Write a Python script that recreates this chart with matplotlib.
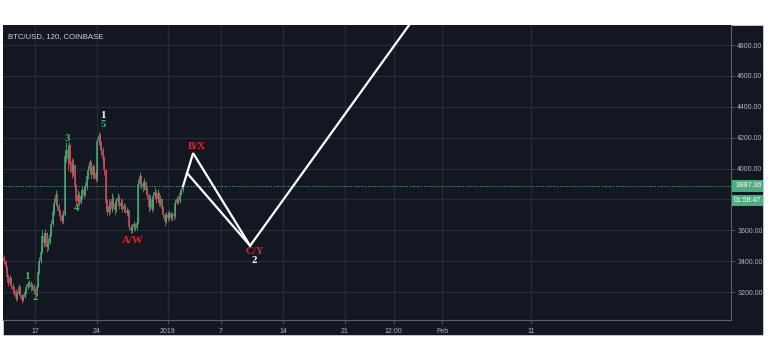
import numpy as np
import matplotlib.pyplot as plt
from matplotlib.patches import Rectangle

# 4h candles, x = days from 17 Dec 2018
closes = [3400, 3360, 3300, 3260, 3290, 3240, 3220, 3210, 3160, 3190,
          3230, 3180, 3150, 3170, 3200, 3230, 3250, 3260, 3230, 3240,
          3210, 3200, 3240, 3330, 3400, 3460, 3560, 3520, 3580, 3490,
          3520, 3570, 3640, 3720, 3780, 3830, 3760, 3720, 3690, 3660,
          3700, 4080, 4120, 4060, 4150, 4040, 3980, 4020, 3880, 3790,
          3830, 3780, 3820, 3860, 3830, 3880, 3950, 3990, 4040, 3960,
          4010, 3970, 3930, 4180, 4210, 4150, 4120, 4060, 3990, 3780,
          3720, 3760, 3740, 3800, 3770, 3730, 3790, 3810, 3760, 3780,
          3740, 3760, 3730, 3710, 3720, 3620, 3600, 3620, 3640, 3615,
          3650, 3900, 3950, 3900, 3880, 3910, 3860, 3830, 3750, 3800,
          3740, 3820, 3850, 3800, 3840, 3780, 3800, 3740, 3700, 3660,
          3700, 3680, 3710, 3680, 3700, 3690, 3780, 3800, 3790, 3840,
          3860, 3887]
highs = [3440, 3410, 3370, 3320, 3310, 3300, 3260, 3240, 3220, 3210,
         3250, 3240, 3190, 3190, 3220, 3250, 3270, 3280, 3270, 3260,
         3250, 3225, 3255, 3350, 3430, 3500, 3600, 3580, 3610, 3590,
         3550, 3600, 3670, 3760, 3810, 3860, 3840, 3780, 3740, 3710,
         3730, 4110, 4170, 4140, 4170, 4160, 4070, 4060, 4030, 3900,
         3860, 3850, 3840, 3890, 3880, 3910, 3980, 4020, 4060, 4050,
         4030, 4020, 3990, 4200, 4240, 4230, 4180, 4140, 4080, 4000,
         3800, 3800, 3790, 3840, 3820, 3790, 3810, 3840, 3830, 3810,
         3800, 3780, 3770, 3750, 3740, 3730, 3640, 3640, 3660, 3650,
         3680, 3930, 3980, 3960, 3920, 3940, 3920, 3880, 3840, 3830,
         3810, 3850, 3880, 3860, 3870, 3850, 3830, 3810, 3760, 3710,
         3720, 3720, 3730, 3720, 3720, 3715, 3800, 3820, 3820, 3860,
         3880, 3900]
lows = [3380, 3340, 3280, 3240, 3250, 3220, 3190, 3180, 3140, 3150,
        3180, 3160, 3130, 3140, 3160, 3190, 3220, 3230, 3210, 3215,
        3195, 3180, 3190, 3230, 3320, 3390, 3450, 3490, 3500, 3460,
        3470, 3510, 3560, 3630, 3700, 3760, 3730, 3690, 3660, 3640,
        3650, 3690, 4040, 3990, 4030, 3970, 3940, 3950, 3850, 3760,
        3770, 3760, 3770, 3800, 3810, 3820, 3860, 3930, 3970, 3930,
        3940, 3930, 3910, 3920, 4150, 4120, 4090, 4030, 3960, 3740,
        3700, 3700, 3710, 3720, 3740, 3700, 3720, 3770, 3740, 3740,
        3720, 3720, 3710, 3690, 3690, 3600, 3580, 3585, 3600, 3595,
        3600, 3640, 3880, 3870, 3850, 3860, 3830, 3800, 3720, 3730,
        3720, 3730, 3800, 3780, 3790, 3760, 3760, 3720, 3680, 3630,
        3650, 3660, 3670, 3660, 3670, 3670, 3680, 3770, 3770, 3780,
        3830, 3850]
first_open = 3420
start_day = -3.5
step = 1 / 6

# projection drawn on the chart
wave_x = [16.72, 17.85, 24.29, 43.0]
wave_y = [3887, 4100, 3500, 4990]
branch_x = [17.18, 24.29]
branch_y = [3970, 3500]

green_labels = [("1", -0.9, 3300), ("2", 0.0, 3164), ("3", 3.62, 4194),
                ("4", 4.75, 3741), ("5", 7.68, 4285)]
red_labels = [("A/W", 11.07, 3534), ("B/X", 18.3, 4143), ("C/Y", 24.86, 3462)]
white_labels = [("1", 7.68, 4343), ("2", 24.75, 3404)]

price_ticks = [3200, 3400, 3600, 3800, 4000, 4200, 4400, 4600, 4800]
date_pos = [0, 7, 15, 21, 28, 35, 40.5, 46, 56]
date_labels = ["17", "24", "2019", "7", "14", "21", "12:00", "Feb", "11"]
last_price = 3887.36

bg = "#131722"
grid_c = "#262a35"
txt_c = "#b2b5be"
up_c = "#4aa875"
dn_c = "#c9505c"
lab_c = "#3bbf6e"
sans = "Liberation Sans"

W, H = 768, 357
fig = plt.figure(figsize=(W / 100, H / 100), dpi=100, facecolor="white")
fig.patches.append(Rectangle((3 / W, 1 - 335 / H), 760 / W, 310 / H,
                             transform=fig.transFigure, facecolor=bg,
                             edgecolor="#cfd2d8", lw=0.6, zorder=-5))
ax = fig.add_axes([3 / W, 1 - 320 / H, 728 / W, 295 / H], facecolor=bg)
ax.set_zorder(2)

ax.set_xlim(-3.62, 78.6)
ax.set_ylim(3019, 4930)

for p in price_ticks:
    ax.axhline(p, color=grid_c, lw=0.9, zorder=1)
for d in date_pos:
    ax.axvline(d, color=grid_c, lw=0.9, zorder=1)

opens = [first_open] + closes[:-1]
xs = start_day + np.arange(len(closes)) * step
for x, o, c, h, l in zip(xs, opens, closes, highs, lows):
    col = up_c if c >= o else dn_c
    ax.vlines(x, l, h, color=col, lw=0.6, zorder=3)
    ax.vlines(x, min(o, c), max(o, c), color=col, lw=1.1, zorder=3)

ax.axhline(last_price, color="#4caf7f", lw=0.7, ls=(0, (1, 1.5)), zorder=2)

ax.plot(wave_x, wave_y, color="white", lw=1.6, zorder=5,
        solid_joinstyle="miter")
ax.plot(branch_x, branch_y, color="white", lw=1.6, zorder=5)

serif = dict(family="Liberation Serif", weight="bold", fontsize=7.8,
             ha="center", va="center", zorder=6)
for t, x, y in green_labels:
    ax.text(x, y, t, color=lab_c, **serif)
for t, x, y in red_labels:
    ax.text(x, y, t, color="#e8202a", **serif)
for t, x, y in white_labels:
    ax.text(x, y, t, color="white", **serif)

ax.text(0.007, 0.96, "BTC/USD, 120, COINBASE", transform=ax.transAxes,
        color="#d1d4dc", fontsize=5.6, family=sans, va="center", ha="left")

ax.yaxis.tick_right()
ax.set_yticks(price_ticks)
ax.set_yticklabels(["" if p == 3800 else f"{p:.2f}" for p in price_ticks],
                   family=sans)
ax.set_xticks(date_pos)
ax.set_xticklabels(date_labels, family=sans)
ax.tick_params(colors="#5d606b", labelcolor=txt_c, labelsize=5.0,
               length=3, width=0.6, pad=1.5)
ax.tick_params(axis="x", pad=3)
for s in ["left", "top"]:
    ax.spines[s].set_visible(False)
for s in ["right", "bottom"]:
    ax.spines[s].set_color("#5d606b")
    ax.spines[s].set_linewidth(0.8)

# price / countdown tags on the right scale
tag = dict(transform=ax.get_yaxis_transform(), fontsize=5.0, family=sans,
           color="white", ha="left", va="center", clip_on=False, zorder=7)
ax.text(1.004, last_price, f" {last_price:.2f}",
        bbox=dict(boxstyle="square,pad=0.3", fc="#4caf7f", ec="none"), **tag)
ax.text(1.004, last_price - 92, "01:58:47",
        bbox=dict(boxstyle="square,pad=0.3", fc="#4caf7f", ec="none"), **tag)

fig.savefig("out.png", dpi=100, facecolor="white")
